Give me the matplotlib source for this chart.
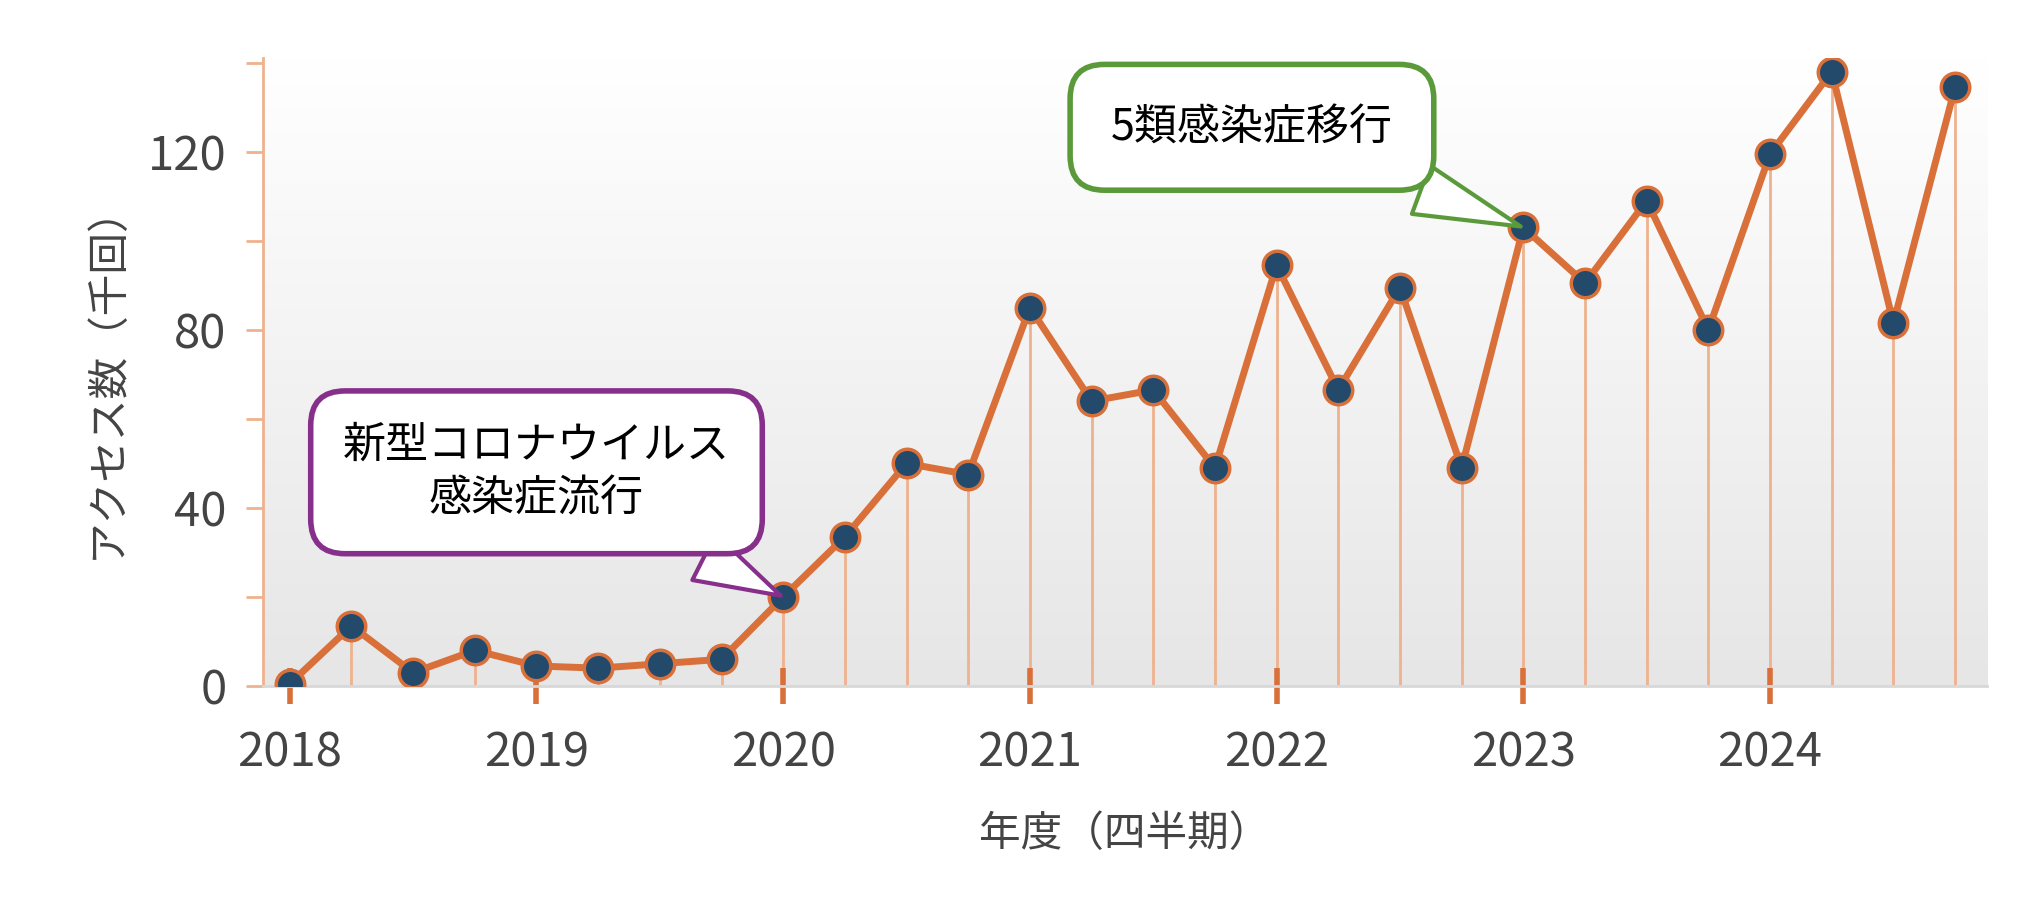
import numpy as np
import matplotlib.pyplot as plt

plt.rcParams["font.family"] = "Noto Sans CJK JP"

years = [2018, 2019, 2020, 2021, 2022, 2023, 2024]
quarters = [y + q * 0.25 for y in years for q in range(4)]
access = [0.5, 13.5, 3, 8,
          4.5, 4, 5, 6,
          20, 33.5, 50, 47.5,
          85, 64, 66.5, 49,
          94.5, 66.5, 89.5, 49,
          103, 90.5, 109, 80,
          119.5, 138, 81.5, 134.5]

line_c = "#d9703a"
stem_c = "#eeb28e"
dot_c = "#244a6b"

fig = plt.figure(figsize=(20.36, 9.11), dpi=100)
ax = fig.add_axes([0.129, 0.247, 0.847, 0.689])
ax.set_xlim(2017.89, 2024.88)
ax.set_ylim(0, 141)

# background gradient
grad = np.linspace(1, 0, 256).reshape(-1, 1)
ax.imshow(grad, extent=[2017.89, 2024.88, 0, 141], aspect="auto",
          cmap=plt.matplotlib.colors.LinearSegmentedColormap.from_list(
              "g", ["#e6e6e6", "#ffffff"]), origin="upper", zorder=0)

ax.vlines(quarters, 0, access, color=stem_c, lw=2, zorder=1)
ax.plot(quarters, access, color=line_c, lw=5, zorder=2)
ax.scatter(quarters, access, s=420, color=dot_c, edgecolor=line_c,
           linewidth=2.5, zorder=3)

for s in ["top", "right"]:
    ax.spines[s].set_visible(False)
ax.spines["left"].set_color(stem_c)
ax.spines["left"].set_linewidth(2)
ax.spines["bottom"].set_color("#d8d8d8")
ax.spines["bottom"].set_linewidth(2)

ax.set_yticks([0, 40, 80, 120])
ax.set_yticks([20, 60, 100, 140], minor=True)
ax.tick_params(axis="y", which="both", color=stem_c, width=2, length=12,
               labelsize=34, labelcolor="#444444", pad=14)
ax.set_xticks(years)
ax.tick_params(axis="x", color=line_c, width=4, length=26, direction="inout",
               labelsize=34, labelcolor="#444444", pad=18)

ax.set_xlabel("年度（四半期）", fontsize=30, color="#444444", labelpad=26)
ax.set_ylabel("アクセス数（千回）", fontsize=30, color="#444444", labelpad=14)

ax.annotate("新型コロナウイルス\n感染症流行", xy=(quarters[8], access[8]),
            xytext=(2019.0, 48), fontsize=31, ha="center", va="center",
            linespacing=1.3, zorder=5,
            bbox=dict(boxstyle="round,pad=0.75,rounding_size=0.8", fc="white",
                      ec="#86308c", lw=4),
            arrowprops=dict(arrowstyle="wedge,tail_width=1.2,shrink_factor=0.5",
                            fc="white", ec="#86308c", lw=3))
ax.annotate("5類感染症移行", xy=(quarters[20], access[20]),
            xytext=(2021.9, 125.5), fontsize=31, ha="center", va="center",
            zorder=5,
            bbox=dict(boxstyle="round,pad=0.95,rounding_size=0.8", fc="white",
                      ec="#5a9a3a", lw=4),
            arrowprops=dict(arrowstyle="wedge,tail_width=1.2,shrink_factor=0.5",
                            fc="white", ec="#5a9a3a", lw=3))

fig.savefig("out.png", dpi=100)
